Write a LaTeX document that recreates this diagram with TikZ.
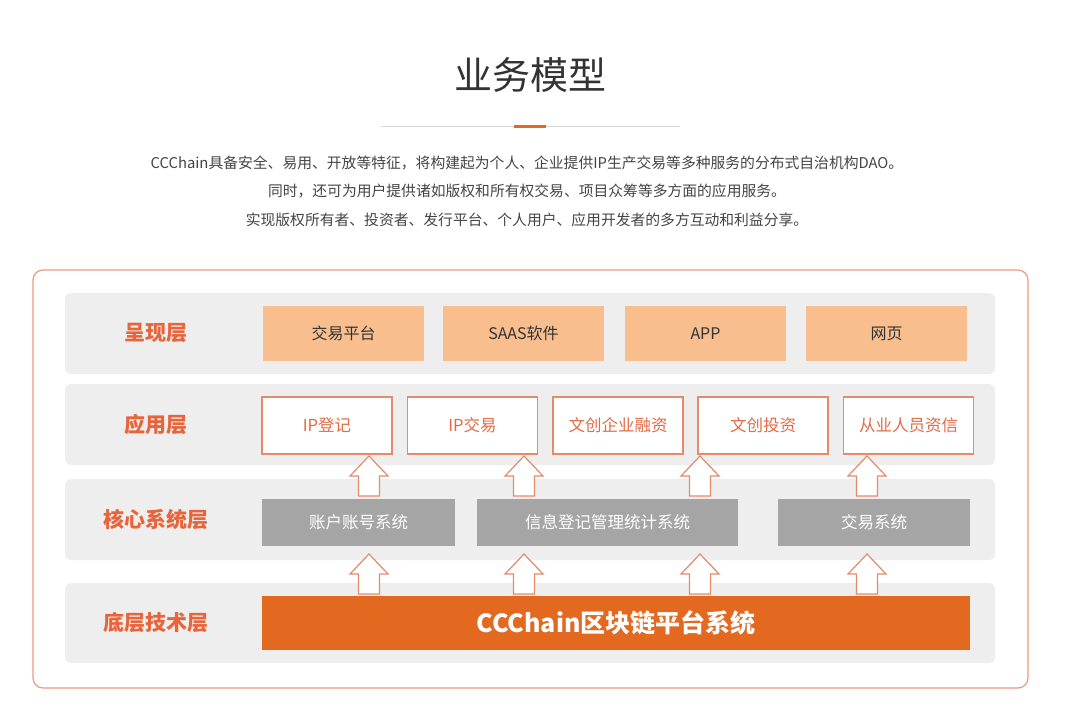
\documentclass[tikz,border=0pt]{standalone}
\usepackage{fontspec}
\setmainfont{Noto Sans CJK SC}
\usepackage{tikz}
\usetikzlibrary{positioning}
\definecolor{TxtDark}{HTML}{333333}
\definecolor{TxtGray}{HTML}{444444}
\definecolor{BandBG}{HTML}{EEEEEE}
\definecolor{Peach}{HTML}{F8BE8D}
\definecolor{Chain}{HTML}{E2691F}
\definecolor{CoreGray}{HTML}{A5A5A5}
\definecolor{LabelCol}{HTML}{E8643A}
\definecolor{AppLine}{HTML}{E68A6A}
\definecolor{AppText}{HTML}{E26B45}
\definecolor{FrameCol}{HTML}{EC9A80}

\begin{document}
\begin{tikzpicture}[x=1pt, y=-1pt,
  band/.style={fill=BandBG, rounded corners=6pt, draw=none},
  lbl/.style={font=\fontsize{21}{24}\selectfont\bfseries, text=LabelCol},
  pres/.style={fill=Peach, minimum width=161pt, minimum height=55pt,
               font=\fontsize{16}{18}\selectfont, text=TxtDark},
  app/.style={draw=AppLine, fill=white, line width=1.2pt, minimum width=130pt,
              minimum height=57pt, font=\fontsize{16.5}{18}\selectfont, text=AppText},
  core/.style={fill=CoreGray, minimum height=47pt,
               font=\fontsize{16.5}{18}\selectfont, text=white},
  upar/.pic={\draw[draw=AppLine, fill=white, line width=1.2pt]
    (-10.5,0) -- (-10.5,-20) -- (-19,-20) -- (0,-40) -- (19,-20)
    -- (10.5,-20) -- (10.5,0) -- cycle;}]
  \useasboundingbox (0,0) rectangle (1080,721);
  % heading
  \node[font=\fontsize{38}{42}\selectfont, text=TxtDark] (title) at (530,75) {业务模型};
  \coordinate (ruleL) at (381,126);
  \coordinate (ruleR) at (680,126);
  \draw[line width=0.8pt, color=black!15] (ruleL) -- (ruleR);
  \draw[line width=3pt, color=Chain] (514,126) -- (546,126);
  \node[font=\fontsize{14.8}{16}\selectfont, text=TxtGray] (d1) at (527,163)
    {CCChain具备安全、易用、开放等特征，将构建起为个人、企业提供IP生产交易等多种服务的分布式自治机构DAO。};
  \node[font=\fontsize{14.8}{16}\selectfont, text=TxtGray] (d2) at (527,191)
    {同时，还可为用户提供诸如版权和所有权交易、项目众筹等多方面的应用服务。};
  \node[font=\fontsize{14.8}{16}\selectfont, text=TxtGray] (d3) at (527,220)
    {实现版权所有者、投资者、发行平台、个人用户、应用开发者的多方互动和利益分享。};
  % frame and bands
  \draw[draw=FrameCol, line width=1.2pt, rounded corners=10pt] (33,270) rectangle (1028,688);
  \fill[band] (65,293) rectangle (995,374);
  \fill[band] (65,384) rectangle (995,465);
  \fill[band] (65,479) rectangle (995,560);
  \fill[band] (65,583) rectangle (995,663);
  \node[lbl] (L1) at (156,333) {呈现层};
  \node[lbl] (L2) at (156,424) {应用层};
  \node[lbl] (L3) at (156,520) {核心系统层};
  \node[lbl] (L4) at (156,623) {底层技术层};
  % presentation layer
  \node[pres] (p1) at (343.5,333.5) {交易平台};
  \node[pres] (p2) at (523.5,333.5) {SAAS软件};
  \node[pres] (p3) at (705.5,333.5) {APP};
  \node[pres] (p4) at (886.5,333.5) {网页};
  % application layer
  \node[app] (a1) at (327,425.5) {IP登记};
  \node[app] (a2) at (472.5,425.5) {IP交易};
  \node[app] (a3) at (618,425.5) {文创企业融资};
  \node[app] (a4) at (763,425.5) {文创投资};
  \node[app] (a5) at (908.5,425.5) {从业人员资信};
  % core systems
  \node[core, minimum width=193pt] (c1) at (358.5,522.5) {账户账号系统};
  \node[core, minimum width=261pt] (c2) at (607.5,522.5) {信息登记管理统计系统};
  \node[core, minimum width=192pt] (c3) at (874,522.5) {交易系统};
  % base layer
  \node[fill=Chain, minimum width=708pt, minimum height=54pt, text=white,
        font=\fontsize{25}{28}\selectfont\bfseries] (base) at (616,623) {CCChain区块链平台系统};
  % block arrows
  \pic at (369,496) {upar};
  \pic at (524,496) {upar};
  \pic at (700,496) {upar};
  \pic at (867,496) {upar};
  \pic at (369,594) {upar};
  \pic at (524,594) {upar};
  \pic at (700,594) {upar};
  \pic at (867,594) {upar};
\end{tikzpicture}
\end{document}
